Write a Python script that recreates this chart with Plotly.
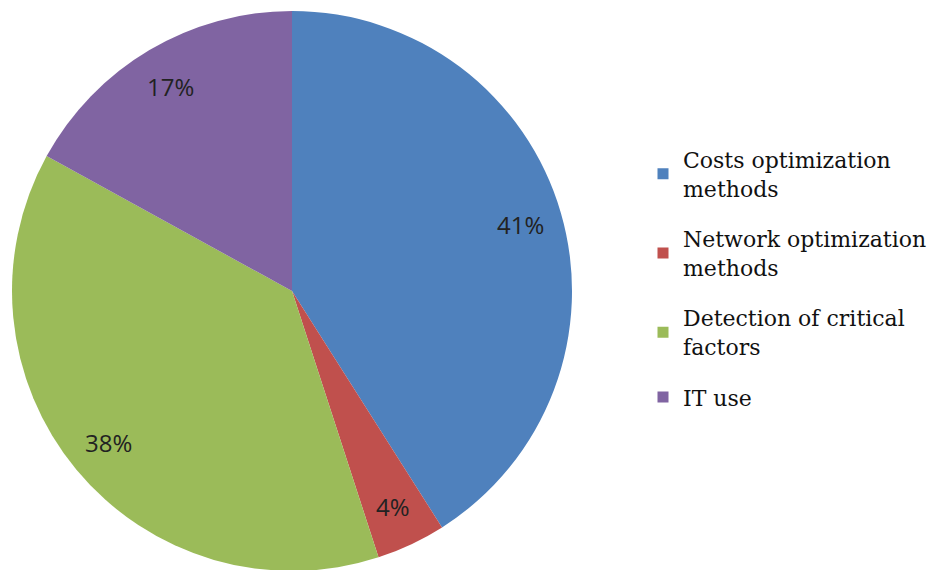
import math
import plotly.graph_objects as go

categories = ["Costs optimization<br>methods", "Network optimization<br>methods",
              "Detection of critical<br>factors", "IT use"]
values = [41, 4, 38, 17]
colors = ["#4F81BD", "#C0504D", "#9BBB59", "#8064A2"]

W, H = 937, 570
ml, mr, mt, mb = 0, 0, 3, 7
dom_x = [4 / W, 564 / W]
dom_y = [0, 1]
SERIF = "DejaVu Serif"

fig = go.Figure()
fig.add_trace(go.Pie(
    labels=categories, values=values, sort=False, direction="clockwise",
    rotation=0, marker=dict(colors=colors, line=dict(width=0)),
    textinfo="none", hoverinfo="label+percent", showlegend=False,
    domain=dict(x=dom_x, y=dom_y),
))

# legend entries (one per category) so that item spacing can match
for i, (cat, col) in enumerate(zip(categories, colors)):
    fig.add_trace(go.Scatter(
        x=[None], y=[None], mode="markers", name=cat, legendgroup=f"g{i}",
        marker=dict(symbol="square", size=11, color=col), hoverinfo="skip",
    ))

# percentage labels placed from the data at ~0.85 of the radius
plot_w = W - ml - mr
plot_h = H - mt - mb
cx = ml + plot_w * (dom_x[0] + dom_x[1]) / 2
cy = mt + plot_h * (1 - (dom_y[0] + dom_y[1]) / 2)
R = min(plot_w * (dom_x[1] - dom_x[0]), plot_h * (dom_y[1] - dom_y[0])) / 2
total = sum(values)
cum = 0
annotations = []
for v in values:
    mid = (cum + v / 2) / total * 2 * math.pi
    cum += v
    r = 0.85 * R
    px = cx + r * math.sin(mid)
    py = cy - r * math.cos(mid)
    annotations.append(dict(
        x=(px - ml) / plot_w, y=1 - (py - mt) / plot_h, xref="paper", yref="paper",
        text=f"{round(v / total * 100)}%", showarrow=False,
        font=dict(family="Open Sans", size=24, color="#222222"),
        xanchor="center", yanchor="middle",
    ))

fig.update_layout(
    width=W, height=H,
    margin=dict(l=ml, r=mr, t=mt, b=mb),
    font=dict(family=SERIF, size=22, color="#111111"),
    paper_bgcolor="white", plot_bgcolor="rgba(0,0,0,0)",
    xaxis=dict(visible=False), yaxis=dict(visible=False),
    showlegend=True,
    legend=dict(x=635 / W, y=0.772, xanchor="left", yanchor="top",
                font=dict(family=SERIF, size=22, color="#111111"),
                itemwidth=30, tracegroupgap=19, traceorder="grouped",
                bgcolor="rgba(0,0,0,0)"),
    annotations=annotations,
)
fig.write_html("out.html")
